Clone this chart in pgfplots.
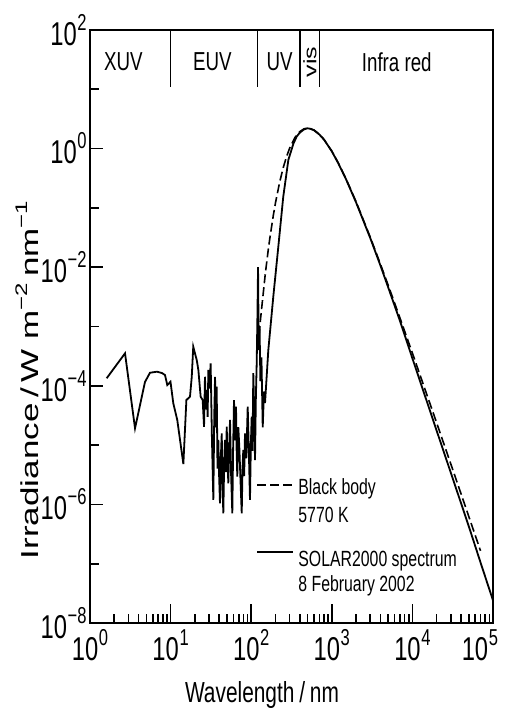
\documentclass[border=0pt]{standalone}
\usepackage{graphicx}
\usepackage{pgfplots}
\pgfplotsset{compat=1.18}
\usepackage{fontspec}
\setmainfont{Liberation Sans}[FakeStretch=0.72]
\newfontfamily\plainfont{Liberation Sans}
\newcommand\tl[1]{10\kern0.3pt\raisebox{7.5pt}{\fontsize{11.5pt}{12pt}\selectfont #1}}
\begin{document}
\begin{tikzpicture}
\useasboundingbox (-45pt,-44pt) rectangle (207pt,311.5pt);
\begin{axis}[
  scale only axis, width=201.5pt, height=296.5pt,
  xmode=log, ymode=log,
  xmin=1, xmax=1e5, ymin=1e-8, ymax=1e2,
  axis line style={line width=1pt},
  tick align=inside,
  xtick pos=bottom, ytick pos=left,
  xtick={1,10,100,1000,10000,100000},
  xticklabels={\tl{0},\tl{1},\tl{2},\tl{3},\tl{4},\makebox[5pt][r]{\tl{5}}},
  minor xtick={2,3,4,5,6,7,8,9,20,30,40,50,60,70,80,90,200,300,400,500,600,700,800,900,2000,3000,4000,5000,6000,7000,8000,9000,20000,30000,40000,50000,60000,70000,80000,90000},
  ytick={1e-8,1e-6,1e-4,1e-2,1,100},
  yticklabels={\tl{−8},\tl{−6},\tl{−4},\tl{−2},\tl{0},\tl{2}},
  minor ytick={1e-7,1e-5,1e-3,1e-1,10},
  major tick length=9.5pt, minor tick length=4.5pt,
  ytick style={/pgfplots/major tick length=6.5pt},
  every tick/.style={black, line width=0.8pt},
  ticklabel style={font=\fontsize{16.5pt}{18pt}\selectfont},
  xticklabel style={inner sep=0pt, yshift=-3pt},
  yticklabel style={inner sep=0pt, xshift=-1.5pt},
  clip=true,
]
\addplot[black, line width=0.9pt] coordinates {
(1.61,1.34e-4) (2.72,3.53e-4) (3.62,1.92e-5) (4.81,1.16e-4) (5.55,1.66e-4)
(6.78,1.73e-4) (7.82,1.64e-4) (8.52,1.52e-4) (9.10,1.03e-4) (9.97,1.17e-4)
(10.8,5.07e-5) (12.1,2.65e-5) (14.4,4.80e-6) (15.7,5.76e-5) (17.4,6.55e-5)
(18.3,1.41e-4) (19.1,4.56e-4) (21.1,2.72e-4) (22.1,1.85e-4) (23.6,6.55e-5)
(25.0,5.75e-5) (26.0,2.04e-5) (26.7,1.42e-4) (27.4,4.0e-5) (28.1,8.49e-5)
(28.8,3.0e-5) (29.4,1.85e-4) (30.3,9.0e-5) (31.4,2.39e-4) (32.5,1.5e-5)
(33.9,1.19e-6) (34.8,3.0e-5) (35.6,1.42e-4) (36.4,2.0e-5) (37.3,9.66e-5)
(38.2,4.0e-6) (39.1,1.22e-5) (40.0,3.0e-6) (41.0,1.04e-6) (42.0,6.0e-6)
(43.1,1.58e-5) (44.1,2.0e-6) (45.1,7.08e-7) (46.2,5.0e-6) (47.3,1.22e-5)
(48.5,3.5e-6) (49.7,2.04e-5) (50.8,6.0e-6) (52.0,2.27e-6) (53.3,8.0e-6)
(54.6,2.65e-5) (56.4,3.0e-6) (58.3,7.08e-7) (59.7,9.0e-6) (61.2,5.75e-5)
(63.0,1.2e-5) (64.8,4.45e-5) (66.0,8.0e-6) (67.2,2.93e-6) (69.2,2.0e-5)
(71.2,9.40e-6) (73.7,2.5e-6) (76.3,7.08e-7) (78.0,4.0e-6) (79.8,8.26e-6)
(81.8,3.0e-6) (83.8,1.58e-5) (87.0,6.0e-6) (90.5,4.45e-5) (93.5,8.0e-6)
(96.6,1.19e-6) (99.0,1.0e-5) (101.4,3.01e-5) (103.8,8.0e-6) (106.2,1.63e-4)
(108.8,4.0e-5) (111.5,5.61e-6) (114.2,6.0e-5) (117.0,2.39e-4) (119.5,1.5e-3)
(121.6,1.0e-2) (123.0,1.5e-3) (125.0,4e-4) (127.0,1.0e-3) (130.0,1.2e-4)
(134.0,3e-4) (139.0,2.0e-5) (144.0,8e-5) (148.4,5.1e-5) (163,3.98e-4)
(188,3.18e-3) (217,2.22e-2) (250,0.155) (289,0.643) (333,1.20) (367,1.60)
(400,1.85) (450,2.10) (500,2.20) (550,2.15) (600,2.04) (700,1.73)
(800,1.42) (1000,0.90) (1200,0.57) (1500,0.305) (2000,0.124) (3000,0.031)
(4000,0.0108) (5000,4.6e-3) (7000,1.25e-3) (10000,2.9e-4) (20000,1.75e-5)
(30000,3.4e-6) (50000,4.3e-7) (70000,1.05e-7) (100000,2.4e-8)
};
\addplot[black, line width=0.8pt, dash pattern=on 4.5pt off 2pt] coordinates {
(125,7.2e-4) (130,1.27e-3) (150,8.0e-3) (163,1.99e-2) (170,3.02e-2)
(188,7.44e-2) (200,0.121) (225,0.2685) (250,0.480) (275,0.737)
(300,1.017) (350,1.545) (400,1.931) (450,2.149) (500,2.22) (600,2.06)
(700,1.751) (800,1.425) (1000,0.906) (1200,0.579) (1500,0.310)
(2000,0.127) (3000,0.0320) (4000,0.01136) (5000,4.99e-3) (7000,1.40e-3)
(10000,3.56e-4) (20000,2.37e-5) (30000,4.78e-6) (50000,6.30e-7)
(70000,1.65e-7)
};
% spectral region separators
\draw[line width=0.8pt] (axis cs:10,100) -- (axis cs:10,11);
\draw[line width=0.8pt] (axis cs:120,100) -- (axis cs:120,11);
\draw[line width=0.8pt] (axis cs:400,100) -- (axis cs:400,11);
\draw[line width=0.8pt] (axis cs:700,100) -- (axis cs:700,11);
\begin{scope}[every node/.style={font=\fontsize{13pt}{15pt}\selectfont}]
\node at (axis cs:2.6,29) {XUV};
\node at (axis cs:33,29) {EUV};
\node at (axis cs:225,29) {UV};
\node[rotate=90, font=\plainfont\fontsize{12.5pt}{14pt}\selectfont] at (axis cs:535,29) {\scalebox{1}[0.72]{vis}};
\node at (axis cs:6400,29) {Infra red};
\end{scope}
\end{axis}
% legend
\draw[line width=0.8pt, dash pattern=on 4.5pt off 2pt] (83.5pt,69pt) -- (101.5pt,69pt);
\draw[line width=0.9pt] (83.5pt,35.5pt) -- (101.5pt,35.5pt);
\begin{scope}[every node/.style={font=\fontsize{11pt}{12pt}\selectfont, anchor=base west, inner sep=0pt}]
\node at (104pt,64pt) {Black body};
\node at (104pt,50pt) {5770 K};
\node at (104pt,28pt) {SOLAR2000 spectrum};
\node at (104pt,15.7pt) {8 February 2002};
\end{scope}
% axis labels
\node[anchor=base, inner sep=0pt, font=\fontsize{14.5pt}{16pt}\selectfont] at (86pt,-39.5pt) {Wavelength\,/\,nm};
\node[rotate=90, inner sep=0pt] at (-31.5pt,121.5pt) {\scalebox{1}[0.7]{\plainfont\fontsize{17.5pt}{20pt}\selectfont Irradiance\,/\,W m\raisebox{0.45em}{\fontsize{12pt}{14pt}\selectfont −2}\,nm\raisebox{0.45em}{\fontsize{12pt}{14pt}\selectfont −1}}};
\end{tikzpicture}
\end{document}
